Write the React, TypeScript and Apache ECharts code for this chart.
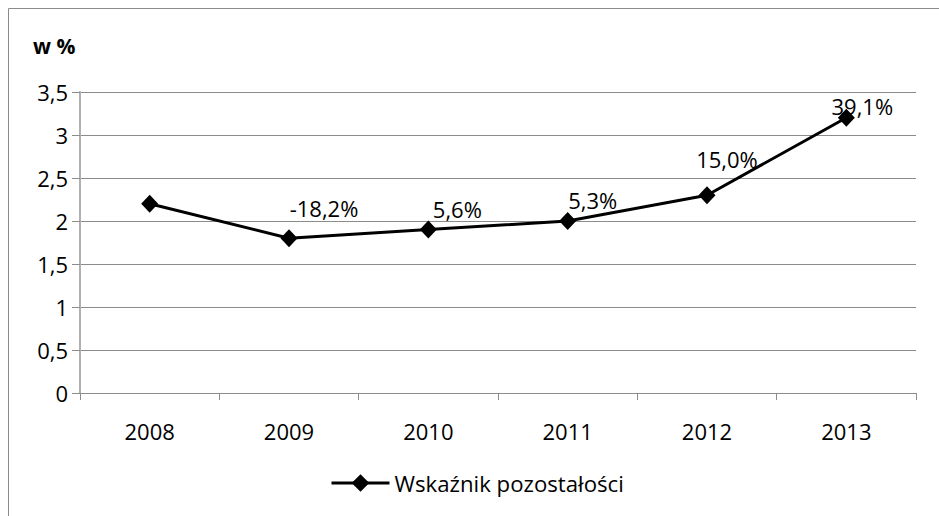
import React, { useEffect, useRef } from "react";
import * as echarts from "echarts";

const categories = ["2008", "2009", "2010", "2011", "2012", "2013"];
const values = [2.2, 1.8, 1.9, 2.0, 2.3, 3.2];
const pointLabels = ["", "-18,2%", "5,6%", "5,3%", "15,0%", "39,1%"];
const yTicks = { min: 0, max: 3.5, interval: 0.5 };
const seriesName = "Wskaźnik pozostałości";
const titleText = "w %";

const labelOffsets: [number, number][] = [
  [0, 0],
  [35, -30],
  [29, -21],
  [25, -21],
  [20, -36],
  [16, -12],
];

const FONT = "'Open Sans', sans-serif";

export default function App() {
  const ref = useRef<HTMLDivElement>(null);
  useEffect(() => {
    if (!ref.current) return;
    const chart = echarts.init(ref.current, undefined, { renderer: "svg" });
    chart.setOption({
      animation: false,
      backgroundColor: "#ffffff",
      textStyle: { fontFamily: FONT },
      graphic: [
        {
          type: "rect",
          shape: { x: 8.5, y: 8.5, width: 1000, height: 1000 },
          style: { fill: "none", stroke: "#8c8c8c", lineWidth: 1 },
          silent: true,
        },
        {
          type: "text",
          left: 33,
          top: 35,
          style: {
            text: titleText,
            font: `bold 21px ${FONT}`,
            fill: "#000",
          },
        },
      ],
      legend: {
        left: 330,
        top: 472,
        padding: 0,
        itemWidth: 58,
        itemHeight: 22,
        itemGap: 10,
        textStyle: { fontFamily: FONT, fontSize: 22.2, color: "#000" },
        lineStyle: { width: 3 },
        data: [seriesName],
      },
      grid: { left: 80, right: 23, top: 92, bottom: 123, containLabel: false },
      xAxis: {
        type: "category",
        data: categories,
        boundaryGap: true,
        axisLine: { show: true, lineStyle: { color: "#8c8c8c", width: 1 } },
        axisTick: { show: true, length: 7, lineStyle: { color: "#8c8c8c" } },
        axisLabel: { margin: 27, fontSize: 22, color: "#000", fontFamily: FONT },
        splitLine: { show: false },
      },
      yAxis: {
        type: "value",
        min: yTicks.min,
        max: yTicks.max,
        interval: yTicks.interval,
        axisLine: { show: true, lineStyle: { color: "#b0b0b0", width: 2 } },
        axisTick: { show: true, length: 8, lineStyle: { color: "#8c8c8c" } },
        axisLabel: {
          margin: 12,
          fontSize: 22,
          color: "#000",
          fontFamily: FONT,
          formatter: (v: number) => String(v).replace(".", ","),
        },
        splitLine: { show: true, lineStyle: { color: "#8c8c8c", width: 1 } },
      },
      series: [
        {
          name: seriesName,
          type: "line",
          data: values.map((v, i) => ({
            value: v,
            label: {
              show: pointLabels[i] !== "",
              formatter: pointLabels[i],
              position: "inside",
              offset: labelOffsets[i],
            },
          })),
          symbol: "diamond",
          symbolSize: [17, 18],
          lineStyle: { color: "#000", width: 3 },
          itemStyle: { color: "#000" },
          label: { fontSize: 22, color: "#000", fontFamily: FONT },
          emphasis: { disabled: true },
        },
      ],
    });
    return () => chart.dispose();
  }, []);
  return (
    <div
      ref={ref}
      style={{ position: "fixed", left: 0, top: 0, width: 939, height: 516 }}
    />
  );
}
